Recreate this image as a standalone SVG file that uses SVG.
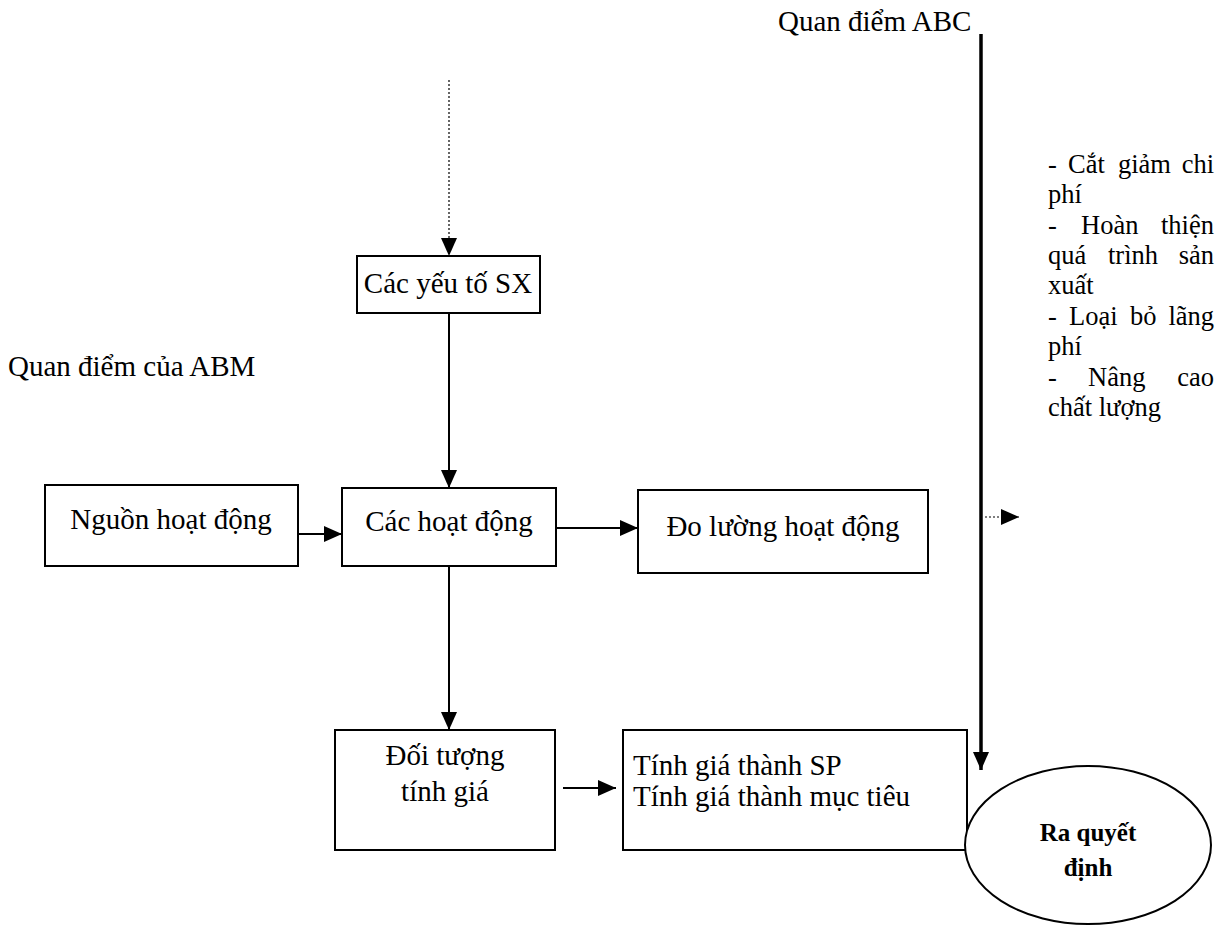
<svg xmlns="http://www.w3.org/2000/svg" width="1223" height="927" viewBox="0 0 1223 927">
<style>
text{font-family:"Liberation Serif","Times New Roman",serif;fill:#000}
.t{font-size:29px}
.s{font-size:26.5px}
.b{font-weight:bold;font-size:25px}
.box{fill:#fff;stroke:#000;stroke-width:2}
.ln{stroke:#000;stroke-width:2;fill:none}
.dot{stroke:#000;stroke-width:1.2;stroke-dasharray:2 2;fill:none}
</style>
<defs>
<marker id="ah" markerUnits="userSpaceOnUse" markerWidth="18" markerHeight="16" viewBox="0 0 18 16" refX="18" refY="8" orient="auto">
<path d="M0,0 L18,8 L0,16 Z" fill="#000"/>
</marker>
</defs>
<g id="labels">
<text class="t" x="778" y="31">Quan điểm ABC</text>
<text class="t" x="8" y="376">Quan điểm của ABM</text>
</g>
<g id="benefits" class="s">
<text x="1048" y="173">-</text><text x="1068" y="173">Cắt</text><text x="1118" y="173">giảm</text><text x="1214" y="173" text-anchor="end">chi</text>
<text x="1048" y="203">phí</text>
<text x="1048" y="234">-</text><text x="1081" y="234">Hoàn</text><text x="1214" y="234" text-anchor="end">thiện</text>
<text x="1048" y="264">quá</text><text x="1108" y="264">trình</text><text x="1214" y="264" text-anchor="end">sản</text>
<text x="1048" y="294">xuất</text>
<text x="1048" y="325">-</text><text x="1069" y="325">Loại</text><text x="1130" y="325">bỏ</text><text x="1214" y="325" text-anchor="end">lãng</text>
<text x="1048" y="355">phí</text>
<text x="1048" y="386">-</text><text x="1088" y="386">Nâng</text><text x="1214" y="386" text-anchor="end">cao</text>
<text x="1048" y="416">chất lượng</text>
</g>
<g id="connectors">
<line class="dot" x1="449" y1="80" x2="449" y2="256" marker-end="url(#ah)"/>
<line class="ln" x1="449" y1="313" x2="449" y2="488" marker-end="url(#ah)"/>
<line class="ln" x1="298" y1="534" x2="342" y2="534" marker-end="url(#ah)"/>
<line class="ln" x1="556" y1="528" x2="638" y2="528" marker-end="url(#ah)"/>
<line class="ln" x1="449" y1="566" x2="449" y2="730" marker-end="url(#ah)"/>
<line class="ln" x1="563" y1="788" x2="616" y2="788" marker-end="url(#ah)"/>
<line class="dot" x1="985" y1="517" x2="1019" y2="517" marker-end="url(#ah)"/>
<line stroke="#000" stroke-width="3.5" x1="981" y1="34" x2="981" y2="770" marker-end="url(#ah)"/>
</g>
<g id="n-sx">
<rect class="box" x="357" y="256" width="183" height="57"/>
<text class="t" x="448" y="293" text-anchor="middle">Các yếu tố SX</text>
</g>
<g id="n-nguon">
<rect class="box" x="45" y="485" width="253" height="81"/>
<text class="t" x="171" y="529" text-anchor="middle">Nguồn hoạt động</text>
</g>
<g id="n-hoatdong">
<rect class="box" x="342" y="488" width="214" height="78"/>
<text class="t" x="449" y="531" text-anchor="middle">Các hoạt động</text>
</g>
<g id="n-doluong">
<rect class="box" x="638" y="490" width="290" height="83"/>
<text class="t" x="783" y="536" text-anchor="middle">Đo lường hoạt động</text>
</g>
<g id="n-doituong">
<rect class="box" x="335" y="730" width="220" height="120"/>
<text class="t" x="445" y="765" text-anchor="middle">Đối tượng</text>
<text class="t" x="445" y="801" text-anchor="middle">tính giá</text>
</g>
<g id="n-tinhgia">
<rect class="box" x="623" y="730" width="344" height="120"/>
<text class="t" x="633" y="775">Tính giá thành SP</text>
<text class="t" x="633" y="806">Tính giá thành mục tiêu</text>
</g>
<g id="n-quyetdinh">
<ellipse cx="1088" cy="845" rx="123" ry="79" fill="#fff" stroke="#000" stroke-width="2"/>
<text class="b" x="1088" y="841" text-anchor="middle">Ra quyết</text>
<text class="b" x="1088" y="876" text-anchor="middle">định</text>
</g>
</svg>
